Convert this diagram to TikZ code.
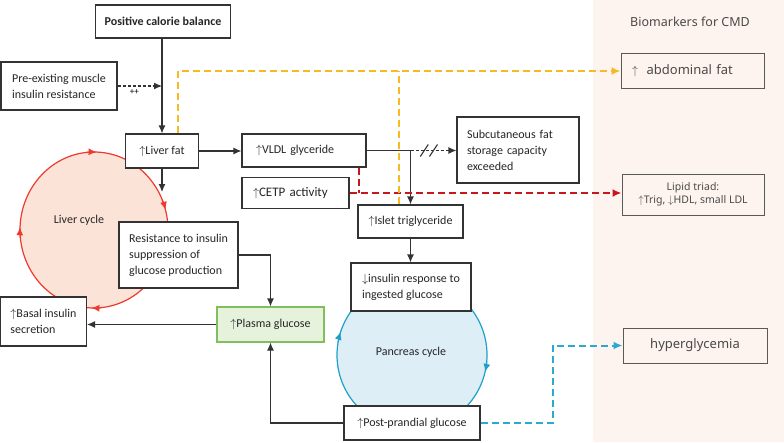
\documentclass[tikz,border=0pt]{standalone}
\usepackage{fontspec}
\setmainfont{Carlito}
\newfontfamily\panelfont{Noto Sans}
\usetikzlibrary{arrows.meta}

\definecolor{boxline}{HTML}{333333}
\definecolor{livered}{HTML}{EE3A2E}
\definecolor{liverfill}{HTML}{FCE3D8}
\definecolor{pancblue}{HTML}{1EA0C9}
\definecolor{pancfill}{HTML}{DDEEF6}
\definecolor{plasmaline}{HTML}{80BF5C}
\definecolor{plasmafill}{HTML}{E7F2DC}
\definecolor{fatyellow}{HTML}{F7B924}
\definecolor{lipidred}{HTML}{C8161D}
\definecolor{glucblue}{HTML}{2BA9D1}
\definecolor{panelbg}{HTML}{FDF3EF}
\definecolor{paneltext}{HTML}{4A4A4A}

\newcommand{\arrup}{\(\uparrow\)}
\newcommand{\arrdn}{\(\downarrow\)}

\tikzset{
  box/.style={draw=boxline, line width=1.1pt, fill=white, inner sep=0pt, text=black!85, font=\fontsize{12}{16}\selectfont},
  markerbox/.style={draw=black!65, line width=1pt, inner sep=0pt, text=paneltext, font=\panelfont\fontsize{13}{15}\selectfont},
  arr/.style={draw=boxline, line width=1.1pt, -{Latex[length=8pt,width=7pt]}},
  colourtip/.style={-{Latex[length=9pt,width=8pt]}},
  colourdash/.style={line width=2pt, dash pattern=on 7pt off 4pt},
  cycletip/.style={line width=1.2pt, -{Latex[length=8pt,width=7pt]}},
}

\begin{document}
\begin{tikzpicture}[x=1pt,y=1pt]

\useasboundingbox (0,0) rectangle (784,-442);

% biomarker panel
\fill[panelbg] (593,0) rectangle (784,-442);
\node[text=paneltext, font=\panelfont\fontsize{12.5}{15}\selectfont] (paneltitle) at (690,-22) {Biomarkers for CMD};

% liver cycle
\coordinate (livercentre) at (94,-230);
\draw[livered, fill=liverfill, line width=1.2pt] (livercentre) ellipse [x radius=74, y radius=78];
\foreach \a in {88,15,178,268}
  \draw[livered, cycletip] (livercentre) ++(\a+8:74 and 78) arc [start angle=\a+8, end angle=\a, x radius=74, y radius=78];
\node[font=\fontsize{12}{14}\selectfont, text=black!85] (livertext) at (79,-220) {Liver cycle};

% pancreas cycle
\coordinate (pancentre) at (412,-355);
\draw[pancblue, fill=pancfill, line width=1.2pt] (pancentre) circle [radius=75];
\foreach \a in {162,-13}
  \draw[pancblue, cycletip] (pancentre) ++(\a+8:75) arc [start angle=\a+8, end angle=\a, radius=75];
\node[font=\fontsize{12}{14}\selectfont, text=black!85] (panctext) at (411,-352) {Pancreas cycle};

% positive calorie balance
\node[box, minimum width=135, minimum height=33, font=\bfseries\fontsize{12}{15}\selectfont] (calorie) at (163,-21.5) {Positive calorie balance};

% pre-existing muscle insulin resistance
\node[box, minimum width=116, minimum height=48, align=left] (muscle) at (59,-86) {Pre-existing muscle\\insulin resistance};

% liver fat
\node[box, minimum width=73, minimum height=34] (liverfat) at (162,-151) {\arrup Liver fat};

% VLDL glyceride
\node[box, minimum width=124, minimum height=33, text width=96, align=left] (vldl) at (304,-150.5) {\arrup VLDL glyceride};

% CETP activity
\node[box, line width=1.8pt, minimum width=107, minimum height=31, text width=85, align=left, font=\fontsize{13}{15}\selectfont] (cetp) at (295.5,-193) {\arrup CETP activity};

% subcutaneous fat
\node[box, minimum width=122, minimum height=66, text width=102, align=left] (subcut) at (518,-150) {Subcutaneous fat\\storage capacity\\exceeded};

% islet triglyceride
\node[box, minimum width=105, minimum height=33] (islet) at (410.5,-221.5) {\arrup Islet triglyceride};

% insulin response
\node[box, minimum width=120, minimum height=48, align=left] (insresp) at (411,-287) {\arrdn insulin response to\\ingested glucose};

% resistance to insulin suppression
\node[box, minimum width=119, minimum height=66, align=left] (resist) at (178.5,-255) {Resistance to insulin\\suppression of\\glucose production};

% basal insulin
\node[box, minimum width=86, minimum height=49, align=left] (basal) at (43.5,-321.5) {\arrup Basal insulin\\secretion};

% plasma glucose
\node[box, draw=plasmaline, fill=plasmafill, minimum width=107, minimum height=35] (plasma) at (270.5,-324.5) {\arrup Plasma glucose};

% post-prandial glucose
\node[box, minimum width=136, minimum height=34] (postprand) at (412,-423) {\arrup Post-prandial glucose};

% biomarkers
\node[markerbox, minimum width=143, minimum height=35, text width=121, align=left] (abdfat) at (692.5,-71) {\arrup\ \ abdominal fat};
\node[markerbox, minimum width=142, minimum height=41, align=center, font=\panelfont\fontsize{10.5}{13}\selectfont] (lipid) at (693,-194.5) {Lipid triad:\\\arrup Trig, \arrdn HDL, small LDL};
\node[markerbox, minimum width=144, minimum height=35] (hyper) at (695,-345.5) {hyperglycemia};

% calorie balance to liver fat
\draw[arr] (calorie.south -| liverfat.north) -- (liverfat.north);

% muscle insulin resistance joins in
\draw[arr, dash pattern=on 3pt off 2pt] (muscle.east) -- (muscle.east -| liverfat.north) node[pos=0.38, below, font=\fontsize{9}{10}\selectfont] {++};

% liver fat to VLDL
\draw[arr] (liverfat.east) -- (liverfat.east -| vldl.west);

% liver fat down
\coordinate (liverdown) at (162,-192);
\draw[arr] (liverfat.south) -- (liverdown);

% VLDL to islet, branch to subcutaneous fat
\coordinate (vldlsplit) at (vldl.east -| islet.north);
\draw[arr] (vldl.east) -- (vldlsplit) -- (islet.north);
\draw[arr, dash pattern=on 3pt off 2pt] (vldlsplit) -- (vldlsplit -| subcut.west) coordinate[pos=0.3] (slasha) coordinate[pos=0.5] (slashb);
\foreach \s in {slasha,slashb}
  \draw[boxline, line width=1.1pt] (\s) ++(-4,-6) -- ++(8,12);

% islet to insulin response
\draw[arr] (islet.south) -- (islet.south |- insresp.north);

% resistance to plasma glucose
\draw[arr] (resist.east) -| (plasma.north);

% plasma glucose to basal insulin
\draw[arr] (plasma.west) -- (plasma.west -| basal.east);

% post-prandial to plasma glucose
\draw[arr] (postprand.west) -| (plasma.south);

% lipid triad
\draw[lipidred, colourdash] ([xshift=55]vldl.south) -- ([xshift=55]vldl.south |- cetp.east);
\draw[lipidred, colourdash, colourtip] (cetp.east) -- (cetp.east -| lipid.west);

% abdominal fat
\draw[fatyellow, colourdash, colourtip] ([xshift=16]liverfat.north) |- (abdfat.west);
\draw[fatyellow, colourdash] ([xshift=-11.5]islet.north) -- ([xshift=-11.5]islet.north |- abdfat.west);

% hyperglycemia
\draw[glucblue, colourdash, colourtip] (postprand.east) -- ++(72,0) |- (hyper.west);

\end{tikzpicture}
\end{document}
